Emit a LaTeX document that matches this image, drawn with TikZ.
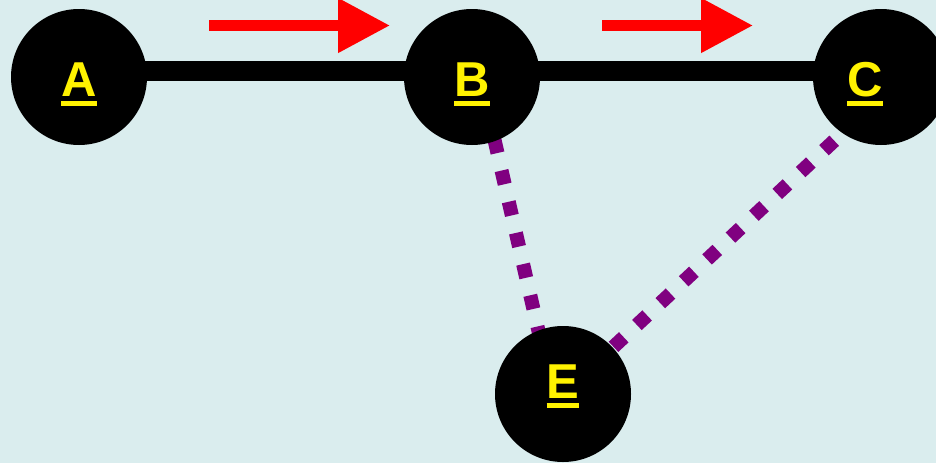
\documentclass[tikz,border=0pt]{standalone}
\usepackage{fontspec}
\setmainfont{Liberation Sans}
\usetikzlibrary{arrows.meta,backgrounds}
\definecolor{paleblue}{RGB}{218,237,238}
\definecolor{linkpurple}{RGB}{128,0,128}
\newcommand{\ullbl}[1]{\setbox0\hbox{#1}\rlap{\rule[-9.7pt]{\wd0}{5pt}}\box0}

\begin{document}
\begin{tikzpicture}[x=1pt,y=-1pt,
    vertex/.style={circle,fill=black,minimum size=136pt,inner sep=0pt},
    lbl/.style={text=yellow,font=\fontsize{49}{49}\selectfont\bfseries},
    link/.style={line width=20pt,black},
    weak/.style={line width=14pt,linkpurple,dash pattern=on 14pt off 18pt},
    flow/.style={line width=11pt,red,-{Triangle[length=52pt,width=52pt]}}]
    \useasboundingbox (0,0) rectangle (936,463);

    \node[vertex,label={[lbl,yshift=-7pt]center:\ullbl{A}}] (A) at (79,77){};
    \node[vertex,label={[lbl,yshift=-7pt]center:\ullbl{B}}] (B) at (472,77){};
    \node[vertex,label={[lbl,xshift=-16pt,yshift=-7pt]center:\ullbl{C}}] (C) at (881,77){};
    \node[vertex,label={[lbl,yshift=8pt]center:\ullbl{E}}] (E) at (563,394){};

    \coordinate (f1s) at (209,25.5);
    \coordinate (f1e) at (390,25.5);
    \coordinate (f2s) at (602,25.5);
    \coordinate (f2e) at (753,25.5);

    \draw[flow] (f1s) -- (f1e);
    \draw[flow] (f2s) -- (f2e);

    \begin{scope}[on background layer]
    \fill[paleblue] (0,0) rectangle (936,463);
    \draw[link] ([yshift=6.5pt]A.center) -- ([yshift=6.5pt]B.center);
    \draw[link] ([yshift=6.5pt]B.center) -- ([yshift=6.5pt]C.center);
    \draw[weak] ([xshift=8pt]B.center) -- ([xshift=-10pt]E.center);
    \draw[weak] ([yshift=-20pt]C.center) -- (E.center);
    \end{scope}
  \end{tikzpicture}
\end{document}
